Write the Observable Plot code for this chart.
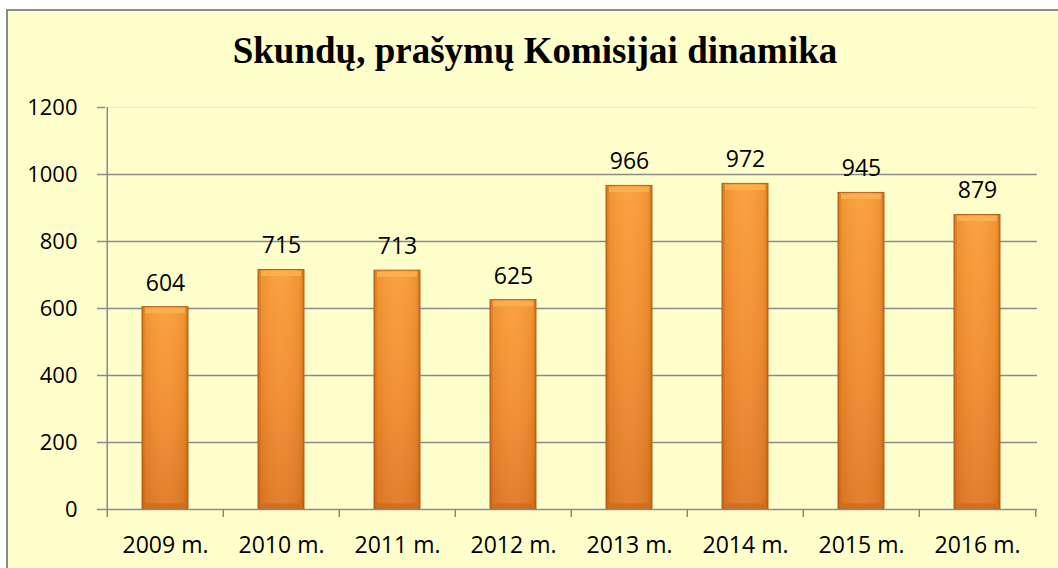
<!DOCTYPE html>
<html>
<head>
<meta charset="utf-8">
<script src="https://cdn.jsdelivr.net/npm/d3@7"></script>
<script src="https://cdn.jsdelivr.net/npm/@observablehq/plot@0.6"></script>
<style>
  html, body { margin: 0; padding: 0; background: #ffffff; width: 1058px; height: 568px; overflow: hidden; }
  #frame { position: absolute; left: 6px; top: 9px; width: 1070px; height: 580px; border: 2px solid #8a8a8a; background: #FFFFCC; box-sizing: border-box; }
  #title { position: absolute; left: 0; top: 32px; width: 1070px; text-align: center; font-family: "Liberation Serif", "Times New Roman", serif; font-weight: bold; font-size: 37px; line-height: 37px; color: #000; }
  #chart { position: absolute; left: 0; top: 0; }
</style>
</head>
<body>
<div id="frame"></div>
<div id="title">Skundų, prašymų Komisijai dinamika</div>
<div id="chart"></div>
<script>
const years = ["2009 m.", "2010 m.", "2011 m.", "2012 m.", "2013 m.", "2014 m.", "2015 m.", "2016 m."];
const values = [604, 715, 713, 625, 966, 972, 945, 879];
const yTicks = [0, 200, 400, 600, 800, 1000, 1200];

const data = years.map((y, i) => ({year: y, value: values[i]}));

const W = 1058, H = 568;
const mL = 105, mR = 21, mT = 107, mB = 59;
const step = (W - mL - mR) / years.length;

const plot = Plot.plot({
  width: W,
  height: H,
  marginLeft: mL,
  marginRight: mR,
  marginTop: mT,
  marginBottom: mB,
  style: {background: "transparent", fontFamily: "'Open Sans', sans-serif", fontSize: "22px", color: "#000"},
  x: {domain: years, paddingInner: 0.6, paddingOuter: 0.3, label: null},
  y: {domain: [0, 1200], label: null},
  marks: [
    Plot.ruleY(yTicks.filter(d => d > 0 && d < 1200), {stroke: "#8a8a8a", strokeWidth: 1.5}),
    Plot.ruleY([1200], {stroke: "#eeeed0", strokeWidth: 1.5}),
    Plot.barY(data, {x: "year", y: "value", fill: "url(#barGrad)", stroke: "#b85f1c", strokeWidth: 1}),
    Plot.barY(data, {x: "year", y: "value", fill: "url(#sideGrad)"}),
    Plot.tickY(data, {x: "year", y: "value", stroke: "#fdb24f", strokeOpacity: 0.85, strokeWidth: 5, dy: 3.5, insetLeft: 3, insetRight: 3}),
    Plot.tickY(data, {x: "year", y: () => 0, stroke: "#c96a1f", strokeOpacity: 0.7, strokeWidth: 5, dy: -3.5, insetLeft: 3, insetRight: 3}),
    Plot.ruleX([years[0]], {x: d => d, y1: () => 0, y2: () => 1200, stroke: "#8a8a8a", strokeWidth: 1.5, dx: -step / 2}),
    Plot.ruleY([0], {stroke: "#8a8a8a", strokeWidth: 1.5}),
    Plot.axisY({ticks: yTicks, tickSize: 8, tickPadding: 20, stroke: "#8a8a8a", strokeWidth: 1.5, fontSize: 22, tickFormat: d => String(d), label: null}),
    Plot.axisX({tickSize: 0, tickPadding: 27, fontSize: 23, label: null}),
    Plot.ruleX(years, {x: d => d, y1: () => 0, y2: () => 0, stroke: "#8a8a8a", strokeWidth: 1.5, dx: -step / 2, insetBottom: -8}),
    Plot.ruleX([years[years.length - 1]], {x: d => d, y1: () => 0, y2: () => 0, stroke: "#8a8a8a", strokeWidth: 1.5, dx: step / 2, insetBottom: -8}),
    Plot.text(data, {x: "year", y: "value", text: d => String(d.value), dy: -24, fontSize: 23, fill: "#000"})
  ]
});

const svg = d3.select(plot);
const defs = svg.insert("defs", ":first-child");
const g1 = defs.append("linearGradient").attr("id", "barGrad").attr("x1", 0).attr("y1", 0).attr("x2", 0).attr("y2", 1);
g1.append("stop").attr("offset", "0%").attr("stop-color", "#fa9d37");
g1.append("stop").attr("offset", "50%").attr("stop-color", "#f28d2d");
g1.append("stop").attr("offset", "100%").attr("stop-color", "#e07823");
const g2 = defs.append("linearGradient").attr("id", "sideGrad").attr("x1", 0).attr("y1", 0).attr("x2", 1).attr("y2", 0);
g2.append("stop").attr("offset", "0%").attr("stop-color", "#a8500f").attr("stop-opacity", 0.55);
g2.append("stop").attr("offset", "8%").attr("stop-color", "#a8500f").attr("stop-opacity", 0.12);
g2.append("stop").attr("offset", "50%").attr("stop-color", "#ffffff").attr("stop-opacity", 0.05);
g2.append("stop").attr("offset", "92%").attr("stop-color", "#a8500f").attr("stop-opacity", 0.12);
g2.append("stop").attr("offset", "100%").attr("stop-color", "#a8500f").attr("stop-opacity", 0.55);

document.getElementById("chart").appendChild(plot);
</script>
</body>
</html>
